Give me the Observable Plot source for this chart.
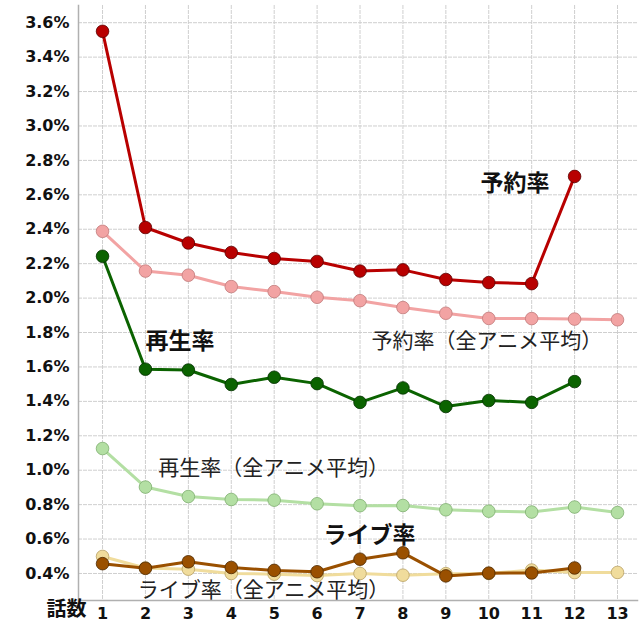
<!DOCTYPE html>
<html>
<head>
<meta charset="utf-8">
<script src="https://cdn.jsdelivr.net/npm/d3@7"></script>
<script src="https://cdn.jsdelivr.net/npm/@observablehq/plot@0.6"></script>
<style>
  html, body { margin: 0; padding: 0; background: #fff; }
  #chart { width: 640px; height: 640px; }
</style>
</head>
<body>
<div id="chart"></div>
<script>
const episodes = [1,2,3,4,5,6,7,8,9,10,11,12,13];

const reserve      = [3.55,2.41,2.32,2.265,2.23,2.213,2.157,2.164,2.108,2.09,2.084,2.707];
const reserveAvg   = [2.388,2.157,2.133,2.067,2.038,2.005,1.985,1.945,1.912,1.882,1.881,1.878,1.874];
const play         = [2.243,1.587,1.582,1.498,1.54,1.503,1.394,1.478,1.37,1.405,1.394,1.515];
const playAvg      = [1.126,0.902,0.847,0.83,0.826,0.805,0.794,0.795,0.77,0.762,0.757,0.786,0.754];
const live         = [0.457,0.43,0.468,0.435,0.418,0.41,0.483,0.52,0.386,0.402,0.403,0.432];
const liveAvg      = [0.499,0.432,0.425,0.4,0.396,0.388,0.4,0.39,0.399,0.4,0.42,0.405,0.406];

const yTicks = [0.4,0.6,0.8,1.0,1.2,1.4,1.6,1.8,2.0,2.2,2.4,2.6,2.8,3.0,3.2,3.4,3.6];

const labelText = ["予約率","予約率（全アニメ平均）","再生率","再生率（全アニメ平均）","ライブ率","ライブ率（全アニメ平均）"];
const labelX    = [9.81, 7.27, 2.0, 2.3, 6.15, 1.82];
const labelY    = [2.665, 1.748, 1.748, 1.01, 0.621, 0.30];
const labelBold = [true, false, true, false, true, false];

const series = [
  {name: "予約率（全アニメ平均）", values: reserveAvg, line: "#f2a3a3", dot: "#f2a3a3", edge: "#c07a7a"},
  {name: "再生率（全アニメ平均）", values: playAvg, line: "#b3dfa3", dot: "#b3dfa3", edge: "#7fae70"},
  {name: "ライブ率（全アニメ平均）", values: liveAvg, line: "#f0dc9c", dot: "#f0dc9c", edge: "#b9a163"},
  {name: "予約率", values: reserve, line: "#b80000", dot: "#b80000", edge: "#5a0000"},
  {name: "再生率", values: play, line: "#0b6300", dot: "#0b6300", edge: "#043000"},
  {name: "ライブ率", values: live, line: "#9a5000", dot: "#9a5000", edge: "#4d2800"}
];

const marks = [];
marks.push(Plot.gridX(episodes, {stroke: "#cfcfcf", strokeOpacity: 1, strokeDasharray: "4,1"}));
marks.push(Plot.gridY(yTicks, {stroke: "#cfcfcf", strokeOpacity: 1, strokeDasharray: "4,1"}));
marks.push(Plot.frame({anchor: "left", stroke: "#b0b0b0", strokeWidth: 1.5}));
marks.push(Plot.frame({anchor: "bottom", stroke: "#b0b0b0", strokeWidth: 1.5}));

for (const s of series) {
  const data = s.values.map((v, i) => ({x: episodes[i], y: v}));
  marks.push(Plot.line(data, {x: "x", y: "y", stroke: s.line, strokeWidth: 3}));
  marks.push(Plot.dot(data, {x: "x", y: "y", r: 6.3, fill: s.dot, stroke: s.edge, strokeWidth: 0.8}));
}

const labels = labelText.map((t, i) => ({t, x: labelX[i], y: labelY[i], b: labelBold[i]}));
marks.push(Plot.text(labels.filter(d => d.b), {x: "x", y: "y", text: "t", textAnchor: "start",
  fontSize: 23, fontWeight: "bold", fill: "#111", fontFamily: "'Noto Sans CJK JP', sans-serif"}));
marks.push(Plot.text(labels.filter(d => !d.b), {x: "x", y: "y", text: "t", textAnchor: "start",
  fontSize: 21, fontWeight: "normal", fill: "#222", fontFamily: "'Noto Sans CJK JP', sans-serif"}));
marks.push(Plot.text(["話数"], {frameAnchor: "bottom-left", dx: -12, dy: 15, textAnchor: "middle",
  fontSize: 20, fontWeight: "bold", fill: "#111", fontFamily: "'Noto Sans CJK JP', sans-serif"}));

marks.push(Plot.axisY(yTicks, {tickSize: 0, tickPadding: 9, tickFormat: d => d.toFixed(1) + "%",
  fontSize: 16, fontWeight: "bold", fill: "#111"}));
marks.push(Plot.axisX(episodes, {tickSize: 0, tickPadding: 7, tickFormat: d => String(d),
  fontSize: 16, fontWeight: "bold", fill: "#111"}));

const chart = Plot.plot({
  width: 640,
  height: 640,
  marginLeft: 78,
  marginRight: 3,
  marginTop: 5,
  marginBottom: 40,
  style: {fontFamily: "'DejaVu Sans', sans-serif", background: "#fff"},
  x: {type: "linear", domain: [0.44, 13.466], label: null},
  y: {type: "linear", domain: [0.243, 3.70], label: null},
  marks
});
document.getElementById("chart").appendChild(chart);
</script>
</body>
</html>
